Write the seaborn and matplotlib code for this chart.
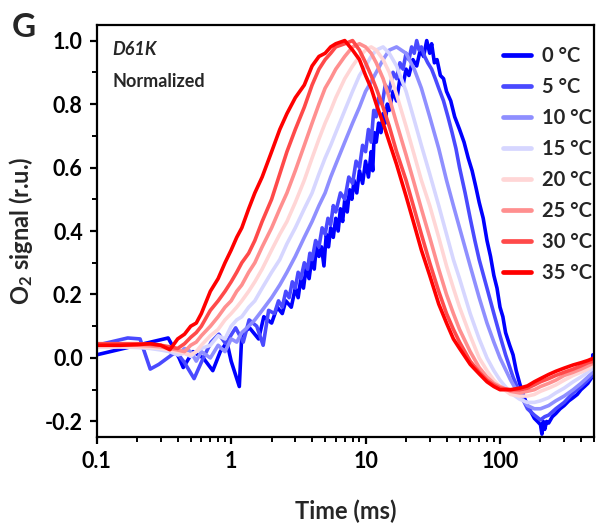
import matplotlib
matplotlib.use("Agg")
import matplotlib.pyplot as plt
import pandas as pd
import seaborn as sns
from matplotlib.ticker import FixedLocator, FixedFormatter, NullFormatter, MultipleLocator, LogLocator

# Temperatures and their colours (blue -> red)
temps = ["0 °C", "5 °C", "10 °C", "15 °C", "20 °C", "25 °C", "30 °C", "35 °C"]
colors = ["#0000ff", "#4a4aff", "#8f8fff", "#d6d6ff",
          "#ffd6d6", "#ff8f8f", "#ff4a4a", "#ff0000"]

# Time base (ms) shared by the 10-35 °C traces
t_grid = [0.1, 0.15, 0.2, 0.25, 0.3, 0.35, 0.4, 0.45, 0.5, 0.55,
          0.6, 0.7, 0.8, 0.9, 1.0, 1.1, 1.2, 1.35, 1.5, 1.7,
          2.0, 2.3, 2.6, 3.0, 3.5, 4.0, 4.5, 5.0, 5.5, 6.0,
          7, 8, 9, 10, 11, 12, 13.5, 15, 17, 20,
          23, 26, 30, 35, 40, 45, 50, 60, 70, 80,
          90, 100, 120, 140, 160, 180, 200, 230, 260, 300,
          350, 400, 450, 500]

sig_35 = [0.040, 0.040, 0.042, 0.045, 0.040, 0.026, 0.060, 0.075, 0.100, 0.110,
          0.140, 0.210, 0.250, 0.300, 0.340, 0.380, 0.410, 0.470, 0.520, 0.570,
          0.650, 0.720, 0.770, 0.820, 0.860, 0.920, 0.950, 0.960, 0.980, 0.990,
          1.000, 0.970, 0.940, 0.890, 0.850, 0.800, 0.740, 0.680, 0.610, 0.510,
          0.420, 0.340, 0.260, 0.170, 0.110, 0.060, 0.030, -0.020, -0.050, -0.075,
          -0.090, -0.100, -0.100, -0.095, -0.088, -0.075, -0.065, -0.052, -0.042, -0.032,
          -0.022, -0.015, -0.008, 0.000]

sig_30 = [0.045, 0.045, 0.045, 0.043, 0.040, 0.035, 0.030, 0.045, 0.065, 0.080,
          0.100, 0.150, 0.180, 0.210, 0.240, 0.270, 0.300, 0.330, 0.370, 0.430,
          0.500, 0.580, 0.650, 0.720, 0.790, 0.860, 0.910, 0.940, 0.960, 0.980,
          0.990, 1.000, 0.970, 0.930, 0.890, 0.850, 0.790, 0.730, 0.650, 0.560,
          0.470, 0.390, 0.300, 0.210, 0.140, 0.090, 0.050, -0.010, -0.045, -0.070,
          -0.085, -0.095, -0.100, -0.100, -0.095, -0.085, -0.075, -0.065, -0.055, -0.045,
          -0.035, -0.025, -0.015, -0.010]

sig_25 = [0.040, 0.040, 0.040, 0.038, 0.035, 0.030, 0.025, 0.020, 0.040, 0.050,
          0.070, 0.100, 0.130, 0.160, 0.180, 0.210, 0.230, 0.270, 0.300, 0.350,
          0.410, 0.470, 0.520, 0.590, 0.670, 0.740, 0.800, 0.850, 0.880, 0.910,
          0.950, 0.980, 0.990, 0.980, 0.960, 0.930, 0.880, 0.820, 0.740, 0.640,
          0.550, 0.470, 0.380, 0.280, 0.200, 0.140, 0.090, 0.020, -0.030, -0.060,
          -0.080, -0.090, -0.105, -0.110, -0.105, -0.100, -0.090, -0.080, -0.070, -0.055,
          -0.045, -0.035, -0.025, -0.015]

sig_20 = [0.035, 0.035, 0.035, 0.033, 0.030, 0.025, 0.020, 0.015, 0.010, 0.020,
          0.040, 0.070, 0.090, 0.120, 0.140, 0.160, 0.180, 0.210, 0.240, 0.280,
          0.340, 0.390, 0.430, 0.490, 0.560, 0.630, 0.690, 0.740, 0.780, 0.820,
          0.880, 0.920, 0.950, 0.970, 0.980, 0.970, 0.940, 0.900, 0.830, 0.730,
          0.640, 0.560, 0.480, 0.380, 0.290, 0.220, 0.160, 0.070, 0.000, -0.040,
          -0.070, -0.090, -0.115, -0.120, -0.120, -0.115, -0.105, -0.095, -0.085, -0.070,
          -0.055, -0.045, -0.035, -0.020]

sig_15 = [0.035, 0.035, 0.033, 0.030, 0.025, 0.020, 0.010, 0.015, 0.005, 0.020,
          0.030, 0.040, 0.070, 0.060, 0.100, 0.120, 0.130, 0.160, 0.180, 0.220,
          0.270, 0.310, 0.360, 0.410, 0.470, 0.520, 0.580, 0.630, 0.670, 0.710,
          0.780, 0.840, 0.890, 0.920, 0.950, 0.970, 0.980, 0.960, 0.920, 0.840,
          0.750, 0.670, 0.580, 0.480, 0.390, 0.310, 0.250, 0.140, 0.060, 0.000,
          -0.040, -0.070, -0.110, -0.130, -0.140, -0.140, -0.135, -0.125, -0.110, -0.095,
          -0.075, -0.060, -0.045, -0.030]

sig_10 = [0.040, 0.040, 0.040, 0.035, 0.030, 0.020, 0.010, 0.030, 0.020, -0.010,
          0.020, 0.000, 0.040, 0.020, 0.060, 0.050, 0.080, 0.100, 0.120, 0.150,
          0.190, 0.230, 0.270, 0.320, 0.380, 0.430, 0.480, 0.520, 0.570, 0.610,
          0.680, 0.740, 0.790, 0.840, 0.870, 0.900, 0.940, 0.970, 0.980, 0.960,
          0.910, 0.850, 0.760, 0.660, 0.560, 0.480, 0.410, 0.290, 0.190, 0.110,
          0.050, 0.000, -0.070, -0.120, -0.150, -0.160, -0.160, -0.150, -0.135, -0.120,
          -0.100, -0.080, -0.060, -0.040]

# 5 °C trace (own time base, noisy)
t_05 = [0.1, 0.17, 0.21, 0.25, 0.29, 0.39, 0.45, 0.53, 0.62, 0.71,
        0.81, 0.91, 1.08, 1.23, 1.36, 1.55, 1.73, 1.9, 2.1, 2.25,
        2.4, 2.55, 2.7, 2.85, 3.0, 3.15, 3.3, 3.5, 3.7, 3.85,
        4.0, 4.25, 4.5, 4.75, 5.0, 5.25, 5.5, 5.75, 6.0, 6.5,
        7.0, 7.5, 8.0, 8.5, 9.0, 9.5, 10, 10.5, 11, 11.5,
        12, 12.5, 13.3, 14, 15, 16, 17, 18, 19, 20,
        21, 22, 23, 24, 25, 26, 27.5, 29, 31, 33,
        35, 38, 41, 44, 47, 50, 55, 60, 65, 70,
        80, 90, 100, 110, 125, 140, 160, 180, 200, 215,
        230, 260, 300, 350, 400, 450, 500]
sig_05 = [0.040, 0.063, 0.060, -0.035, -0.020, 0.020, -0.015, -0.065, 0.000, 0.050,
          0.075, 0.045, 0.095, 0.050, 0.120, 0.100, 0.040, 0.150, 0.140, 0.180,
          0.160, 0.210, 0.190, 0.240, 0.220, 0.270, 0.250, 0.300, 0.280, 0.330,
          0.310, 0.370, 0.350, 0.410, 0.390, 0.440, 0.420, 0.480, 0.460, 0.520,
          0.500, 0.570, 0.550, 0.620, 0.600, 0.670, 0.650, 0.720, 0.680, 0.780,
          0.760, 0.820, 0.800, 0.860, 0.840, 0.900, 0.880, 0.930, 0.910, 0.960,
          0.940, 0.980, 0.960, 1.000, 0.970, 0.980, 0.950, 0.930, 0.910, 0.880,
          0.850, 0.810, 0.760, 0.710, 0.660, 0.600, 0.520, 0.440, 0.370, 0.310,
          0.220, 0.140, 0.070, 0.010, -0.060, -0.110, -0.160, -0.180, -0.195, -0.185,
          -0.180, -0.160, -0.140, -0.110, -0.090, -0.070, -0.050]

# 0 °C trace (own time base, noisiest)
t_00 = [0.1, 0.34, 0.41, 0.44, 0.52, 0.62, 0.73, 0.83, 0.93, 1.0,
        1.15, 1.2, 1.37, 1.6, 1.75, 2.0, 2.2, 2.4, 2.55, 2.8,
        3.0, 3.15, 3.3, 3.45, 3.6, 3.8, 4.0, 4.15, 4.3, 4.5,
        4.7, 4.9, 5.1, 5.3, 5.5, 5.75, 6.0, 6.25, 6.5, 6.75,
        7.0, 7.3, 7.6, 7.9, 8.2, 8.6, 9.0, 9.5, 10, 10.5,
        11.0, 11.3, 11.6, 12.0, 12.5, 13, 13.5, 14, 14.5, 15,
        16, 17, 18, 19, 20, 21, 22.5, 24, 25.5, 27,
        28.5, 30, 31, 32.5, 34, 36, 38, 40, 43, 46,
        50, 54, 58, 62, 66, 70, 75, 80, 85, 90,
        95, 100, 105, 110, 118, 125, 132, 140, 150, 160,
        170, 180, 190, 200, 205, 210, 215, 222, 230, 245,
        260, 280, 300, 325, 350, 375, 400, 425, 450, 475,
        485, 490, 500]
sig_00 = [0.010, 0.063, 0.000, -0.030, 0.020, 0.000, -0.040, 0.020, 0.050, -0.010,
          -0.090, 0.075, 0.095, 0.060, 0.130, 0.110, 0.160, 0.140, 0.180, 0.160,
          0.220, 0.190, 0.250, 0.220, 0.280, 0.250, 0.320, 0.280, 0.350, 0.320,
          0.350, 0.290, 0.390, 0.350, 0.410, 0.380, 0.440, 0.400, 0.470, 0.430,
          0.500, 0.460, 0.530, 0.500, 0.560, 0.520, 0.590, 0.550, 0.620, 0.570,
          0.650, 0.590, 0.710, 0.680, 0.740, 0.710, 0.770, 0.740, 0.800, 0.780,
          0.840, 0.810, 0.880, 0.860, 0.910, 0.890, 0.940, 0.920, 0.970, 0.950,
          1.000, 0.960, 0.990, 0.930, 0.940, 0.890, 0.880, 0.840, 0.810, 0.760,
          0.720, 0.680, 0.630, 0.590, 0.540, 0.490, 0.440, 0.370, 0.320, 0.260,
          0.220, 0.160, 0.130, 0.080, 0.040, 0.010, -0.040, -0.080, -0.120, -0.150,
          -0.170, -0.190, -0.200, -0.210, -0.240, -0.200, -0.225, -0.200, -0.205, -0.185,
          -0.175, -0.160, -0.150, -0.135, -0.125, -0.115, -0.100, -0.090, -0.080, -0.065,
          -0.060, 0.010, -0.030]

series = [
    ("0 °C", t_00, sig_00),
    ("5 °C", t_05, sig_05),
    ("10 °C", t_grid, sig_10),
    ("15 °C", t_grid, sig_15),
    ("20 °C", t_grid, sig_20),
    ("25 °C", t_grid, sig_25),
    ("30 °C", t_grid, sig_30),
    ("35 °C", t_grid, sig_35),
]
frames = [pd.DataFrame({"time": t, "signal": s, "temp": name}) for name, t, s in series]
df = pd.concat(frames, ignore_index=True)

sns.set_theme(style="ticks")
plt.rcParams["font.family"] = ["Lato", "DejaVu Sans"]
plt.rcParams["font.weight"] = "bold"
plt.rcParams["axes.unicode_minus"] = False
plt.rcParams["mathtext.fontset"] = "custom"
plt.rcParams["mathtext.rm"] = "Lato:bold"
plt.rcParams["mathtext.default"] = "rm"

fig = plt.figure(figsize=(5.96, 5.29), dpi=100)
ax = fig.add_axes([0.1623, 0.1733, 0.8343, 0.7800])

sns.lineplot(data=df, x="time", y="signal", hue="temp", hue_order=temps,
             palette=colors, estimator=None, linewidth=2.6, ax=ax)

ax.set_xscale("log")
ax.set_xlim(0.1, 500)
ax.set_ylim(-0.25, 1.05)

ax.xaxis.set_major_locator(FixedLocator([0.1, 1, 10, 100]))
ax.xaxis.set_major_formatter(FixedFormatter(["0.1", "1", "10", "100"]))
ax.xaxis.set_minor_locator(LogLocator(base=10, subs=range(2, 10)))
ax.xaxis.set_minor_formatter(NullFormatter())

ax.yaxis.set_major_locator(FixedLocator([-0.2, 0.0, 0.2, 0.4, 0.6, 0.8, 1.0]))
ax.yaxis.set_major_formatter(FixedFormatter(["-0.2", "0.0", "0.2", "0.4", "0.6", "0.8", "1.0"]))
ax.yaxis.set_minor_locator(MultipleLocator(0.1))

for side in ["left", "right", "top", "bottom"]:
    ax.spines[side].set_visible(True)
    ax.spines[side].set_linewidth(1.6)
    ax.spines[side].set_color("black")

ax.tick_params(which="major", direction="out", length=5, width=1.6, colors="black",
               labelsize=15.5, pad=5, top=False, right=False)
ax.tick_params(which="minor", direction="out", length=3.5, width=1.4, colors="black",
               top=False, right=False)
for lab in ax.get_xticklabels() + ax.get_yticklabels():
    lab.set_fontweight("bold")

ax.set_xlabel("Time (ms)", fontsize=17, fontweight="bold", labelpad=20)
ax.set_ylabel("O$_2$ signal (r.u.)", fontsize=17, fontweight="bold", labelpad=7)

handles, labels = ax.get_legend_handles_labels()
leg = ax.legend(handles, labels, loc="upper left", bbox_to_anchor=(0.817, 0.948),
                frameon=False, borderpad=0, borderaxespad=0, handlelength=1.4,
                handletextpad=0.55, labelspacing=0.545,
                prop={"family": ["Lato", "DejaVu Sans"], "weight": "bold", "size": 14.5})
for line in leg.get_lines():
    line.set_linewidth(3.4)

ax.text(0.031, 0.9266, "D61K", transform=ax.transAxes, fontsize=13,
        fontweight="bold", fontstyle="italic", va="baseline", ha="left")
ax.text(0.031, 0.8497, "Normalized", transform=ax.transAxes, fontsize=13,
        fontweight="bold", va="baseline", ha="left")

fig.text(0.020, 0.9306, "G", fontsize=24, fontweight="bold", va="baseline", ha="left")

fig.savefig("out.png", dpi=100)
